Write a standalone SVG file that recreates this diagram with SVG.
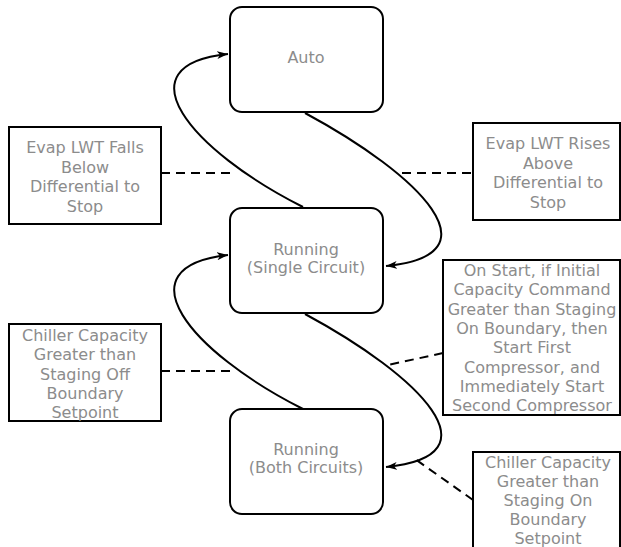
<svg xmlns="http://www.w3.org/2000/svg" width="621" height="547" viewBox="0 0 621 547">
<style>
.node rect{fill:#fff;stroke:#000;stroke-width:2}
.lbl rect{fill:#fff;stroke:#000;stroke-width:2}
text{font-family:"DejaVu Sans","Liberation Sans",sans-serif;fill:#8c8c8c;text-anchor:middle;font-size:16px}
.arc{fill:none;stroke:#000;stroke-width:2;marker-end:url(#ah)}
.dash{fill:none;stroke:#000;stroke-width:2;stroke-dasharray:9 6}
</style>
<defs>
<marker id="ah" markerUnits="userSpaceOnUse" markerWidth="12" markerHeight="10" refX="11" refY="4" orient="auto">
<path d="M0,0 L11,4 L0,8 L3,4 Z" fill="#000"/>
</marker>
</defs>
<g id="connectors">
<path class="arc" d="M305,113 C420,175 500,255 386,266"/>
<path class="arc" d="M305,314 C420,376 500,456 386,467"/>
<path class="arc" d="M303,207 C190,150 120,65 228,54"/>
<path class="arc" d="M303,409 C190,352 120,267 228,255"/>
<path class="dash" d="M161,173 L232,173"/>
<path class="dash" d="M402,173 L473,173"/>
<path class="dash" d="M161,371 L232,371"/>
<path class="dash" d="M443,353 L388,365"/>
<path class="dash" d="M473,500 L415,459"/>
</g>
<g id="auto" class="node">
<rect x="230" y="7" width="153" height="105" rx="12"/>
<text x="306" y="63">Auto</text>
</g>
<g id="single" class="node">
<rect x="230" y="208" width="153" height="105" rx="12"/>
<text x="306" y="255">Running</text>
<text x="306" y="273">(Single Circuit)</text>
</g>
<g id="both" class="node">
<rect x="230" y="409" width="153" height="105" rx="12"/>
<text x="306" y="455">Running</text>
<text x="306" y="473">(Both Circuits)</text>
</g>
<g id="lbl-falls" class="lbl">
<rect x="9" y="127" width="152" height="97"/>
<text x="85" y="153">Evap LWT Falls</text>
<text x="85" y="172.7">Below</text>
<text x="85" y="192.3">Differential to</text>
<text x="85" y="212">Stop</text>
</g>
<g id="lbl-rises" class="lbl">
<rect x="473" y="123" width="147" height="97"/>
<text x="548" y="149">Evap LWT Rises</text>
<text x="548" y="168.7">Above</text>
<text x="548" y="188.3">Differential to</text>
<text x="548" y="208">Stop</text>
</g>
<g id="lbl-off" class="lbl">
<rect x="9" y="324" width="152" height="97"/>
<text x="85" y="341">Chiller Capacity</text>
<text x="85" y="360.2">Greater than</text>
<text x="85" y="379.5">Staging Off</text>
<text x="85" y="398.7">Boundary</text>
<text x="85" y="418">Setpoint</text>
</g>
<g id="lbl-start" class="lbl">
<rect x="443" y="260" width="177" height="155"/>
<text x="532" y="276">On Start, if Initial</text>
<text x="532" y="295.3">Capacity Command</text>
<text x="532" y="314.6">Greater than Staging</text>
<text x="532" y="333.9">On Boundary, then</text>
<text x="532" y="353.2">Start First</text>
<text x="532" y="372.5">Compressor, and</text>
<text x="532" y="391.8">Immediately Start</text>
<text x="532" y="411">Second Compressor</text>
</g>
<g id="lbl-on" class="lbl">
<rect x="473" y="452" width="147" height="100"/>
<text x="548" y="468">Chiller Capacity</text>
<text x="548" y="487">Greater than</text>
<text x="548" y="506">Staging On</text>
<text x="548" y="525">Boundary</text>
<text x="548" y="544">Setpoint</text>
</g>
</svg>
